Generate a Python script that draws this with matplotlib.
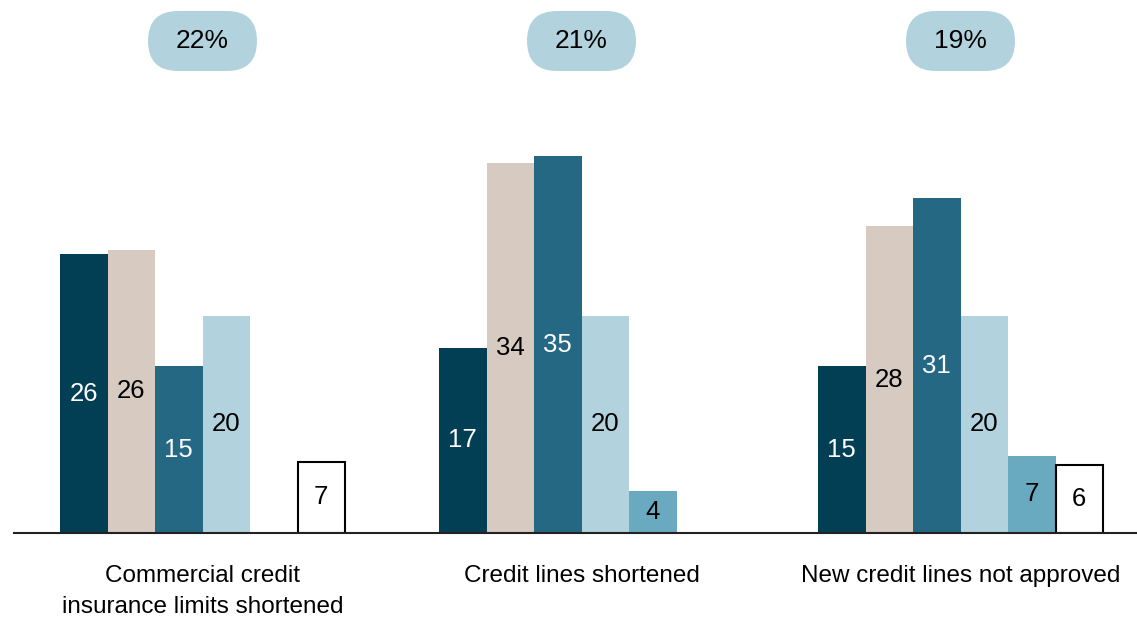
import numpy as np
import matplotlib
matplotlib.use("Agg")
import matplotlib.pyplot as plt
import matplotlib.transforms as mtransforms
from matplotlib.patches import FancyBboxPatch

plt.rcParams['font.family'] = ['Liberation Sans', 'DejaVu Sans']

categories = ["Commercial credit\ninsurance limits shortened",
              "Credit lines shortened",
              "New credit lines not approved"]
pill_labels = ["22%", "21%", "19%"]

s_navy = [25.9, 17.2, 15.5]
s_beige = [26.3, 34.4, 28.5]
s_teal = [15.5, 35.0, 31.1]
s_light = [20.15, 20.15, 20.15]
s_mid = [np.nan, 3.9, 7.15]
s_white = [6.6, np.nan, 6.3]

lab_navy = ["26", "17", "15"]
lab_beige = ["26", "34", "28"]
lab_teal = ["15", "35", "31"]
lab_light = ["20", "20", "20"]
lab_mid = ["", "4", "7"]
lab_white = ["7", "", "6"]

series = [s_navy, s_beige, s_teal, s_light, s_mid, s_white]
labels = [lab_navy, lab_beige, lab_teal, lab_light, lab_mid, lab_white]
colors = ['#023f55', '#d6cac1', '#246884', '#b2d3de', '#6aaac0', 'white']
text_colors = ['white', 'black', 'white', 'black', 'black', 'black']

fig = plt.figure(figsize=(11.37, 6.19), dpi=100)
ax = fig.add_axes([14 / 1137, 86 / 619, 1 - 14 / 1137, 533 / 619])

x = np.arange(len(categories))
w = 47.5 / 379

for k, (vals, labs, col, tcol) in enumerate(zip(series, labels, colors, text_colors)):
    pos = x + (k - 2.5) * w
    if col == 'white':
        ax.bar(pos, vals, width=w, color=col, edgecolor='black', linewidth=1.5, zorder=2)
    else:
        ax.bar(pos, vals, width=w, color=col, linewidth=0, zorder=2)
    for xp, v, t in zip(pos, vals, labs):
        if np.isnan(v):
            continue
        ax.text(xp, v / 2, t, ha='center', va='center', color=tcol, fontsize=18.5, zorder=3)

ax.set_xlim(-(202.5 - 14) / 379, (1137 - 202.5) / 379)
ax.set_ylim(0, 533 / 10.77)

# rounded pills above each group
pill_y = (533 - 41) / 10.77
for xi, p in zip(x, pill_labels):
    tr = fig.dpi_scale_trans + mtransforms.ScaledTranslation(xi, pill_y, ax.transData)
    pill = FancyBboxPatch((-0.545, -0.30), 1.09, 0.60,
                          boxstyle="round,pad=0,rounding_size=0.3",
                          facecolor='#b2d3de', edgecolor='none', transform=tr,
                          clip_on=False)
    ax.add_patch(pill)
    ax.text(xi, pill_y, p, ha='center', va='center', fontsize=19, zorder=4)

ax.set_xticks(x)
ax.set_xticklabels(categories, fontsize=17.5)
for t in ax.get_xticklabels():
    t.set_linespacing(1.55)
ax.tick_params(axis='x', length=0, pad=23)
ax.set_yticks([])
for s in ['left', 'right', 'top']:
    ax.spines[s].set_visible(False)
ax.spines['bottom'].set_linewidth(1.5)
ax.spines['bottom'].set_color('#222222')

fig.savefig("out.png", dpi=100)
